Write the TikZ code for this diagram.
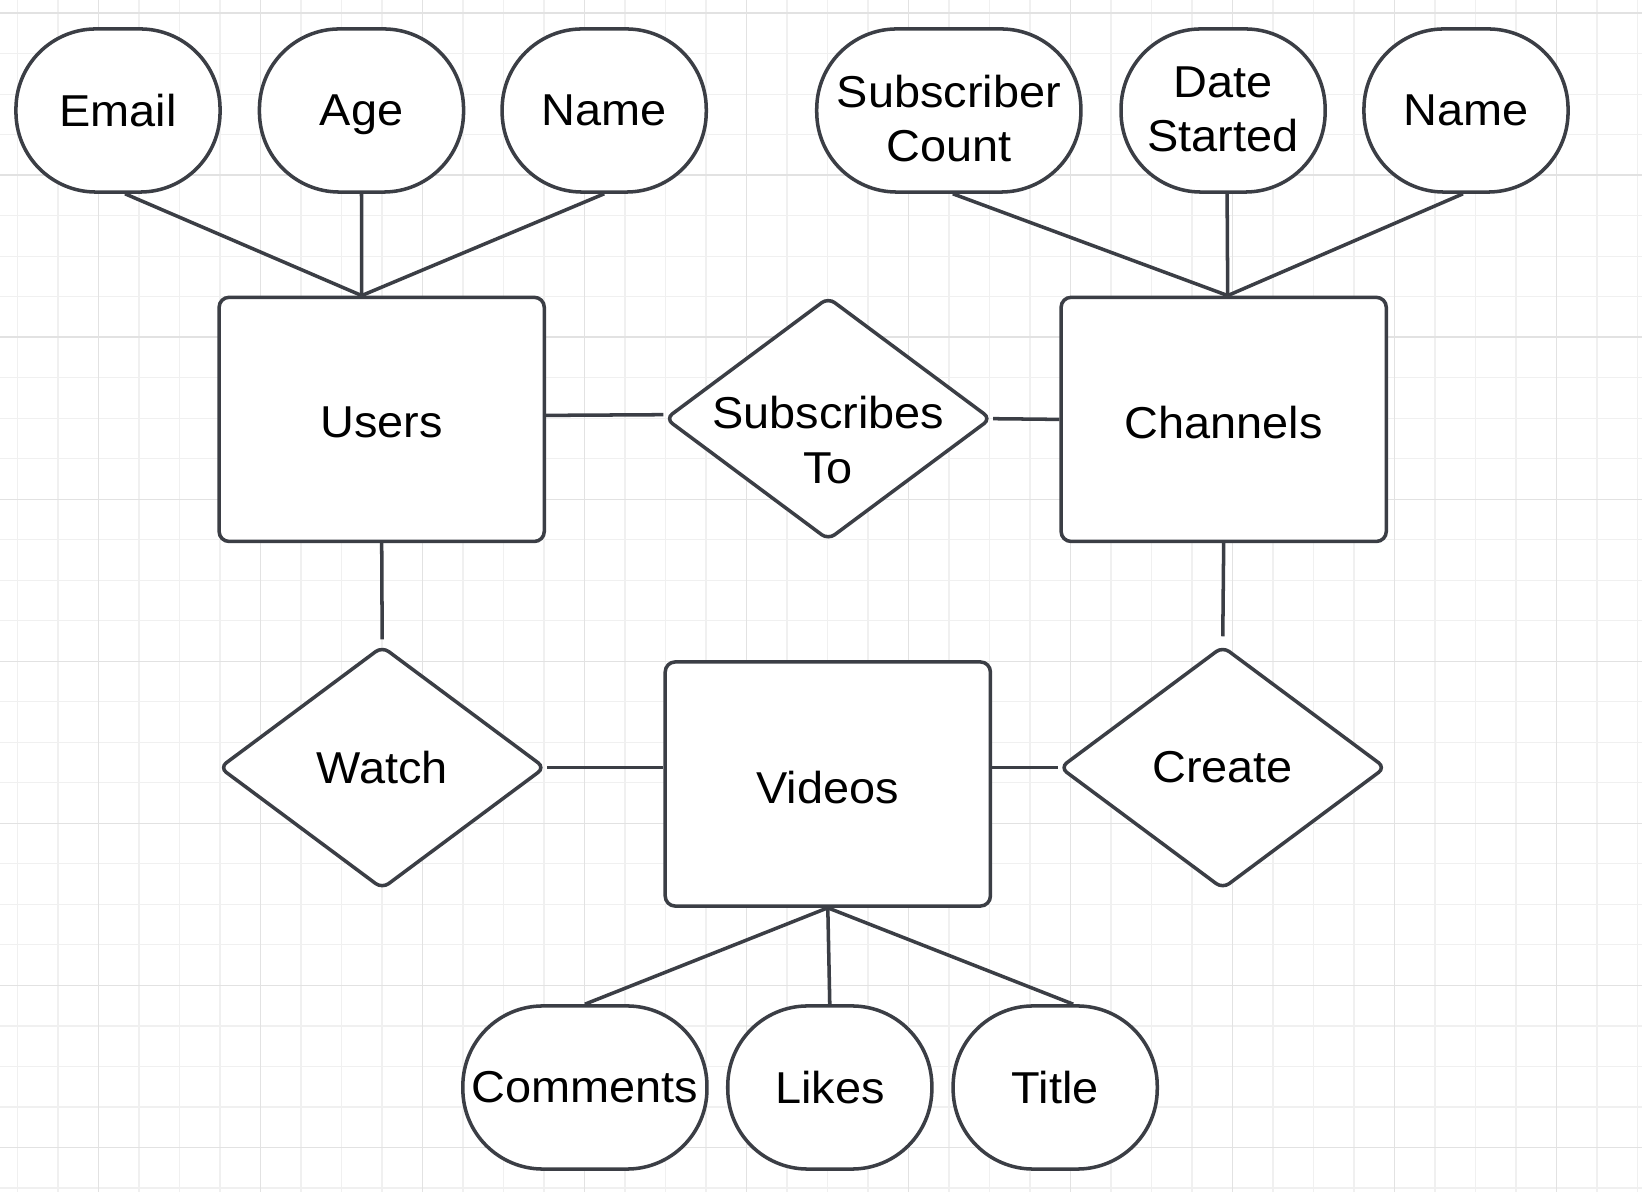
\documentclass[tikz,border=0pt]{standalone}
\usepackage{fontspec}
\setmainfont[FakeStretch=1.05]{Liberation Sans}
\usetikzlibrary{shapes.geometric}
\definecolor{erline}{HTML}{3B3E45}
\definecolor{gridminor}{HTML}{F0F0F0}
\definecolor{gridmajor}{HTML}{E2E2E2}
% text moved down without changing the node size
\newcommand{\dropby}[2]{\raisebox{-#1}[\height][\depth]{#2}}
\newcommand{\twolines}[2]{\begin{tabular}{@{}c@{}}#1\\#2\end{tabular}}

\begin{document}
\begin{tikzpicture}[x=0.01cm, y=-0.01cm, font=\fontsize{12.7}{15.6}\selectfont,
  attr/.style={draw=erline, line width=1pt, fill=white, rounded corners=0.8cm,
    minimum width=2.04cm, minimum height=1.63cm, inner sep=0pt, align=center},
  ent/.style={draw=erline, line width=1pt, fill=white, rounded corners=0.1cm,
    minimum width=3.25cm, minimum height=2.44cm},
  rel/.style={diamond, draw=erline, line width=1pt, fill=white, rounded corners=0.08cm,
    minimum width=3.26cm, minimum height=2.43cm, inner sep=0pt, align=center},
  link/.style={draw=erline, line width=1pt},
  minorline/.style={draw=gridminor, line width=0.4pt},
  majorline/.style={draw=gridmajor, line width=0.45pt}]
\useasboundingbox (0,0) rectangle (1642,1192);
\fill[white] (0,0) rectangle (1642,1192);

% background grid
\foreach \i in {0,...,40}
  \draw[minorline] ({17.3+40.5*\i},0) -- ({17.3+40.5*\i},1192);
\foreach \i in {0,...,29}
  \draw[minorline] (0,{13.3+40.5*\i}) -- (1642,{13.3+40.5*\i});
\foreach \i in {0,...,9}
  \draw[majorline] ({98.3+162*\i},0) -- ({98.3+162*\i},1192);
\foreach \i in {0,...,7}
  \draw[majorline] (0,{13.3+162*\i}) -- (1642,{13.3+162*\i});

% entities
\node[ent] (users) at (381.7,419.4) {\dropby{0.03cm}{Users}};
\node[ent] (channels) at (1223.7,419.4) {\dropby{0.03cm}{Channels}};
\node[ent] (videos) at (827.8,784) {\dropby{0.04cm}{Videos}};

% relations
\node[rel] (subs) at (828.2,418.7) {\makebox[0pt]{\dropby{0.26cm}{\twolines{Subscribes}{To}}}};
\node[rel] (watch) at (382.2,767.6) {Watch};
\node[rel] (create) at (1222.7,767.6) {Create};

% attributes
\node[attr] (email) at (118,110.5) {Email};
\node[attr, text depth=0pt] (age) at (361.5,110.5) {Age};
\node[attr] (uname) at (604.2,110.5) {Name};
\node[attr, minimum width=2.64cm] (subcount) at (948.8,110.5) {\dropby{0.13cm}{\twolines{Subscriber}{Count}}};
\node[attr] (started) at (1223.1,110.5) {\dropby{0.03cm}{\twolines{Date}{Started}}};
\node[attr] (cname) at (1466,110.5) {Name};
\node[attr, minimum width=2.44cm] (comments) at (584.9,1087.5) {Comments};
\node[attr] (likes) at (829.8,1087.5) {Likes};
\node[attr] (title) at (1055.2,1087.5) {Title};

\coordinate (utop) at ([xshift=-0.2cm]users.north);
\coordinate (ctop) at ([xshift=0.04cm]channels.north);

\draw[link] ([xshift=0.07cm]email.south) -- (utop);
\draw[link] (age.south) -- (utop);
\draw[link] (uname.south) -- (utop);
\draw[link] ([xshift=0.04cm]subcount.south) -- (ctop);
\draw[link] ([xshift=0.04cm]started.south) -- (ctop);
\draw[link] ([xshift=-0.03cm]cname.south) -- (ctop);

\draw[link] ([yshift=0.04cm]users.east) -- ([yshift=0.04cm]subs.west);
\draw[link] (subs.east) -- (channels.west);
\draw[link, shorten >=0.05cm] (users.south) -- (watch.north);
\draw[link, shorten >=0.08cm] (channels.south) -- (create.north);
\draw[link] (watch.east) -- (videos.west |- watch.east);
\draw[link] (videos.east |- create.west) -- (create.west);

\draw[link] (videos.south) -- (comments.north);
\draw[link] (videos.south) -- (likes.north);
\draw[link] (videos.south) -- ([xshift=0.18cm]title.north);
\end{tikzpicture}
\end{document}
